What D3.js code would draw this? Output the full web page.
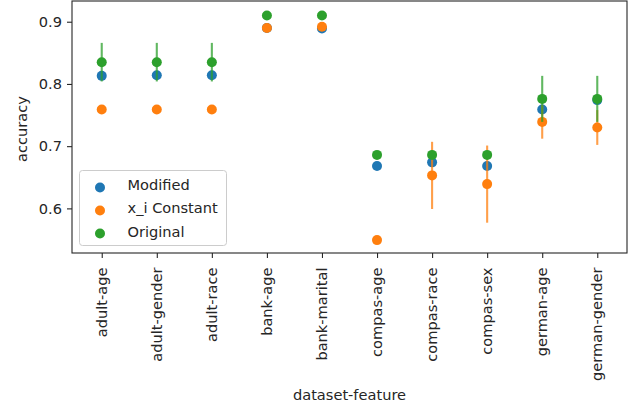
<!DOCTYPE html>
<html>
<head>
<meta charset="utf-8">
<script src="https://cdn.jsdelivr.net/npm/d3@7/dist/d3.min.js"></script>
<style>
  html, body { margin: 0; padding: 0; background: #fff; }
  svg { display: block; }
  text { font-family: "DejaVu Sans", sans-serif; }
</style>
</head>
<body>
<svg id="chart" width="640" height="409"></svg>
<script>
const categories = ['adult-age','adult-gender','adult-race','bank-age','bank-marital','compas-age','compas-race','compas-sex','german-age','german-gender'];
const modified    = [0.813, 0.814, 0.814, 0.890, 0.889, 0.668, 0.674, 0.668, 0.759, 0.774];
const modifiedErr = [0, 0, 0, 0, 0, 0, 0, 0, 0, 0];
const constant    = [0.759, 0.759, 0.759, 0.890, 0.892, 0.549, 0.653, 0.639, 0.739, 0.730];
const constantErr = [0, 0, 0, 0, 0, 0, 0.054, 0.062, 0.027, 0.028];
const original    = [0.835, 0.835, 0.835, 0.910, 0.910, 0.686, 0.686, 0.686, 0.776, 0.776];
const originalErr = [0.031, 0.031, 0.031, 0, 0, 0, 0, 0, 0.037, 0.037];
const seriesNames = ['Modified', 'x_i Constant', 'Original'];
const yTicks = [0.6, 0.7, 0.8, 0.9];

const colors = ['#1f77b4', '#ff7f0e', '#2ca02c'];
const series = [
  { name: seriesNames[0], vals: modified, errs: modifiedErr, color: colors[0] },
  { name: seriesNames[1], vals: constant, errs: constantErr, color: colors[1] },
  { name: seriesNames[2], vals: original, errs: originalErr, color: colors[2] }
];

const mLeft = 72, mRight = 627, mTop = 1, mBottom = 253;
const svg = d3.select('#chart');
const textColor = '#262626';
const fs = 14.6;

const x = d3.scaleLinear().domain([-0.54, categories.length - 1 + 0.54]).range([mLeft, mRight]);
const y = d3.scaleLinear().domain([0.5283, 0.9333]).range([mBottom, mTop]);

// Data
series.forEach(s => {
  const g = svg.append('g');
  s.vals.forEach((v, i) => {
    const e = s.errs[i];
    if (e > 0) {
      g.append('line')
        .attr('x1', x(i)).attr('x2', x(i))
        .attr('y1', y(v - e)).attr('y2', y(v + e))
        .attr('stroke', s.color).attr('stroke-width', 2.1).attr('stroke-opacity', 0.75);
    }
  });
  g.selectAll('circle').data(s.vals).join('circle')
    .attr('cx', (d, i) => x(i)).attr('cy', d => y(d))
    .attr('r', 5).attr('fill', s.color);
});

// Axes
const xAxis = d3.axisBottom(x)
  .tickValues(d3.range(categories.length))
  .tickFormat(i => categories[i])
  .tickSizeInner(5).tickSizeOuter(0).tickPadding(5);
const gx = svg.append('g').attr('transform', `translate(0,${mBottom})`).call(xAxis);
gx.select('.domain').remove();
gx.selectAll('.tick line').attr('stroke', textColor).attr('stroke-width', 1.1);
gx.selectAll('.tick text')
  .attr('font-size', fs).attr('fill', textColor)
  .attr('font-family', '"DejaVu Sans", sans-serif')
  .attr('transform', 'rotate(-90)')
  .attr('text-anchor', 'end')
  .attr('x', -14.5).attr('y', 0).attr('dy', '0.32em');

const yAxis = d3.axisLeft(y)
  .tickValues(yTicks)
  .tickFormat(d3.format('.1f'))
  .tickSizeInner(5).tickSizeOuter(0).tickPadding(5);
const gy = svg.append('g').attr('transform', `translate(${mLeft},0)`).call(yAxis);
gy.select('.domain').remove();
gy.selectAll('.tick line').attr('stroke', textColor).attr('stroke-width', 1.1);
gy.selectAll('.tick text').attr('font-size', fs).attr('fill', textColor)
  .attr('font-family', '"DejaVu Sans", sans-serif').attr('x', -10);

// Frame
svg.append('rect')
  .attr('x', mLeft).attr('y', mTop)
  .attr('width', mRight - mLeft).attr('height', mBottom - mTop)
  .attr('fill', 'none').attr('stroke', textColor).attr('stroke-width', 1.1);

// Axis labels
svg.append('text')
  .attr('x', (mLeft + mRight) / 2).attr('y', 399.5)
  .attr('text-anchor', 'middle').attr('font-size', fs).attr('fill', textColor)
  .text('dataset-feature');
svg.append('text')
  .attr('transform', `translate(27,129) rotate(-90)`)
  .attr('text-anchor', 'middle').attr('font-size', fs).attr('fill', textColor)
  .text('accuracy');

// Legend
const lg = svg.append('g');
lg.append('rect')
  .attr('x', 79.5).attr('y', 170.5).attr('width', 147).attr('height', 75)
  .attr('rx', 3).attr('fill', '#fff').attr('fill-opacity', 0.8)
  .attr('stroke', '#cccccc').attr('stroke-width', 1);
const legBase = [189.5, 213, 236.5];
const legDot = [187.5, 210.5, 233.5];
series.forEach((s, k) => {
  lg.append('circle').attr('cx', 100).attr('cy', legDot[k]).attr('r', 5).attr('fill', s.color);
  lg.append('text').attr('x', 127.5).attr('y', legBase[k])
    .attr('font-size', fs).attr('fill', textColor).text(s.name);
});
</script>
</body>
</html>
